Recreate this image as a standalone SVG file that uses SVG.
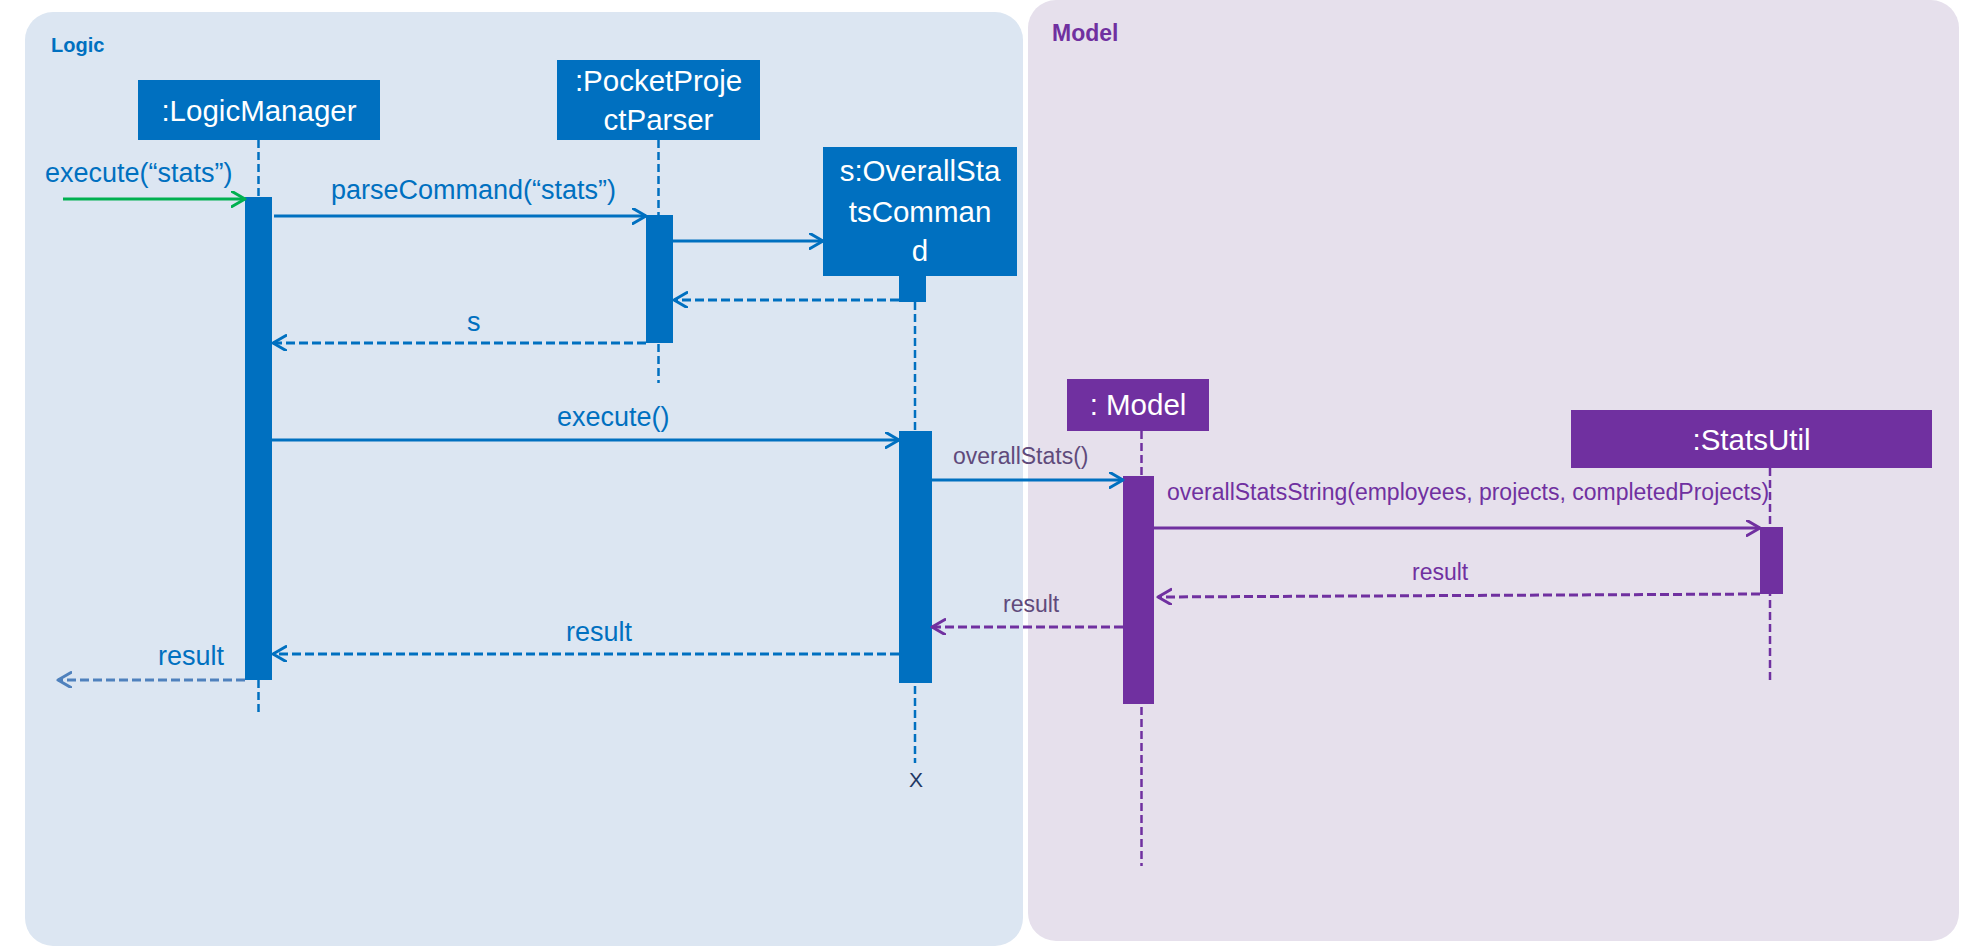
<svg xmlns="http://www.w3.org/2000/svg" width="1961" height="947" viewBox="0 0 1961 947">
<style>
text{font-family:"Liberation Sans",Arial,sans-serif}
.title{fill:#fff;font-size:29.5px;text-anchor:middle}
.lblb{fill:#0070C0;font-size:27px}
.lblp{fill:#7030A0;font-size:23px}
.lblg{fill:#604A7B;font-size:23px}
.panel{font-weight:bold}
.boxb{fill:#0070C0}
.boxp{fill:#7030A0}
.lifeb{stroke:#0070C0;stroke-width:2.5;stroke-dasharray:8 4;fill:none}
.lifep{stroke:#7030A0;stroke-width:2.5;stroke-dasharray:8 4;fill:none}
.call{stroke-width:3;fill:none}
.ret{stroke-width:3;stroke-dasharray:9 4;fill:none}
.ah{fill:none;stroke-width:3;stroke-dasharray:none;stroke-linecap:round;stroke-linejoin:round}
</style>
<defs>
<marker id="ag" markerUnits="userSpaceOnUse" markerWidth="20" markerHeight="20" refX="14" refY="8" orient="auto" viewBox="0 0 20 20"><path class="ah" stroke="#00B050" d="M1,0.5 L14,8 L1,15.5"/></marker>
<marker id="ab" markerUnits="userSpaceOnUse" markerWidth="20" markerHeight="20" refX="14" refY="8" orient="auto" viewBox="0 0 20 20"><path class="ah" stroke="#0070C0" d="M1,0.5 L14,8 L1,15.5"/></marker>
<marker id="ap" markerUnits="userSpaceOnUse" markerWidth="20" markerHeight="20" refX="14" refY="8" orient="auto" viewBox="0 0 20 20"><path class="ah" stroke="#7030A0" d="M1,0.5 L14,8 L1,15.5"/></marker>
<marker id="as" markerUnits="userSpaceOnUse" markerWidth="20" markerHeight="20" refX="14" refY="8" orient="auto" viewBox="0 0 20 20"><path class="ah" stroke="#4F81BD" d="M1,0.5 L14,8 L1,15.5"/></marker>
</defs>
<rect width="1961" height="947" fill="#fff"/>
<g id="logic-panel">
<rect x="25" y="12" width="998" height="934" rx="28" fill="#DCE6F2"/>
<text class="panel" x="51" y="52" fill="#0070C0" font-size="20">Logic</text>
</g>
<g id="model-panel">
<rect x="1028" y="0" width="931" height="941" rx="28" fill="#E6E0EC"/>
<text class="panel" x="1052" y="41" fill="#7030A0" font-size="23">Model</text>
</g>
<g id="logicmanager">
<rect class="boxb" x="138" y="80" width="242" height="60"/>
<text class="title" x="259" y="121">:LogicManager</text>
<line class="lifeb" x1="258.5" y1="140" x2="258.5" y2="712"/>
<rect class="boxb" x="245" y="197" width="27" height="483"/>
</g>
<g id="parser">
<rect class="boxb" x="557" y="60" width="203" height="80"/>
<text class="title" x="658.5" y="91">:PocketProje</text>
<text class="title" x="658.5" y="130">ctParser</text>
<line class="lifeb" x1="658.5" y1="140" x2="658.5" y2="383"/>
<rect class="boxb" x="646" y="215" width="27" height="128"/>
</g>
<g id="overallstatscommand">
<rect class="boxb" x="823" y="147" width="194" height="129"/>
<text class="title" x="920" y="181" font-size="29">s:OverallSta</text>
<text class="title" x="920" y="221.5" font-size="29">tsComman</text>
<text class="title" x="920" y="261" font-size="29">d</text>
<rect class="boxb" x="899" y="276" width="27" height="26"/>
<line class="lifeb" x1="915" y1="302" x2="915" y2="763"/>
<rect class="boxb" x="899" y="431" width="33" height="252"/>
<text x="916" y="787" fill="#1F3864" font-size="21" text-anchor="middle">X</text>
</g>
<g id="model">
<rect class="boxp" x="1067" y="379" width="142" height="52"/>
<text class="title" x="1138" y="415">: Model</text>
<line class="lifep" x1="1141.5" y1="431" x2="1141.5" y2="866"/>
<rect class="boxp" x="1123" y="476" width="31" height="228"/>
</g>
<g id="statsutil">
<rect class="boxp" x="1571" y="410" width="361" height="58"/>
<text class="title" x="1751.5" y="450">:StatsUtil</text>
<line class="lifep" x1="1770" y1="468" x2="1770" y2="682"/>
<rect class="boxp" x="1760" y="527" width="23" height="67"/>
</g>
<g id="connectors">
<line class="call" stroke="#00B050" x1="63" y1="199" x2="245" y2="199" marker-end="url(#ag)"/>
<text class="lblb" x="45" y="182">execute(“stats”)</text>
<line class="call" stroke="#0070C0" x1="274" y1="216" x2="646" y2="216" marker-end="url(#ab)"/>
<text class="lblb" x="331" y="199">parseCommand(“stats”)</text>
<line class="call" stroke="#0070C0" x1="673" y1="241" x2="823" y2="241" marker-end="url(#ab)"/>
<line class="ret" stroke="#0070C0" x1="899" y1="300" x2="674" y2="300" marker-end="url(#ab)"/>
<line class="ret" stroke="#0070C0" x1="646" y1="343" x2="273" y2="343" marker-end="url(#ab)"/>
<text class="lblb" x="467" y="331">s</text>
<line class="call" stroke="#0070C0" x1="272" y1="440" x2="899" y2="440" marker-end="url(#ab)"/>
<text class="lblb" x="557" y="426">execute()</text>
<line class="call" stroke="#0070C0" x1="932" y1="480" x2="1123" y2="480" marker-end="url(#ab)"/>
<text class="lblg" x="953" y="464" font-size="22.4">overallStats()</text>
<line class="call" stroke="#7030A0" x1="1154" y1="528" x2="1760" y2="528" marker-end="url(#ap)"/>
<text class="lblp" x="1167" y="500" font-size="22.8">overallStatsString(employees, projects, completedProjects)</text>
<line class="ret" stroke="#7030A0" x1="1760" y1="594" x2="1158" y2="597" marker-end="url(#ap)"/>
<text class="lblp" x="1412" y="580">result</text>
<line class="ret" stroke="#7030A0" x1="1123" y1="627" x2="932" y2="627" marker-end="url(#ap)"/>
<text class="lblg" x="1003" y="612">result</text>
<line class="ret" stroke="#0070C0" x1="899" y1="654" x2="273" y2="654" marker-end="url(#ab)"/>
<text class="lblb" x="566" y="641">result</text>
<line class="ret" stroke="#4F81BD" x1="245" y1="680" x2="58" y2="680" marker-end="url(#as)"/>
<text class="lblb" x="158" y="665">result</text>
</g>
</svg>
